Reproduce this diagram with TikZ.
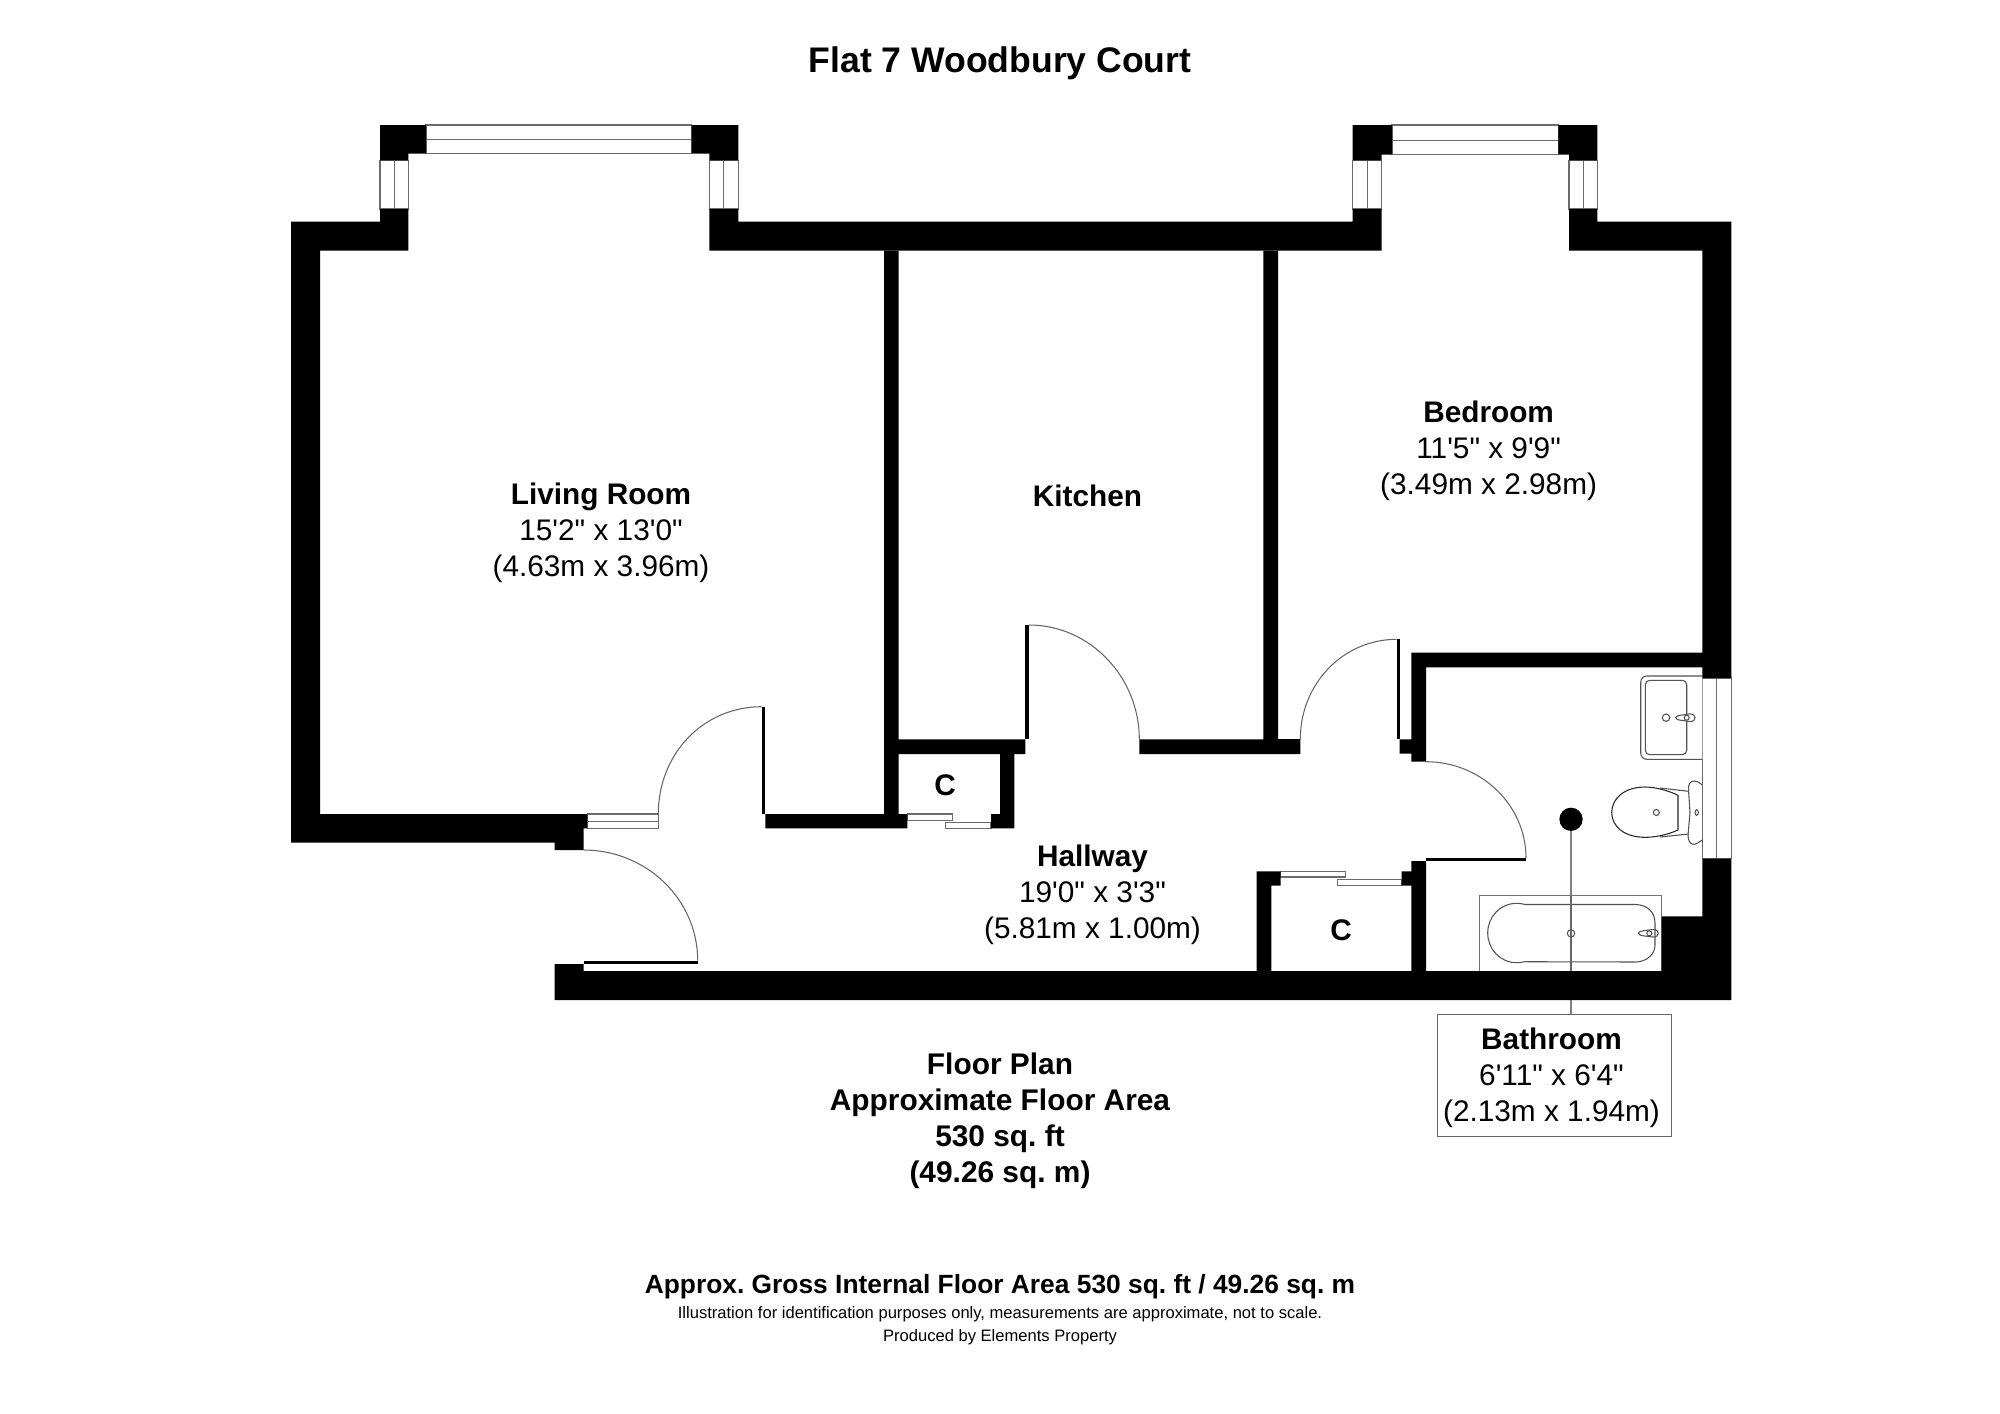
\documentclass[tikz,border=0pt]{standalone}
\usepackage{fontspec}
\newfontfamily\planfont{Liberation Sans}
\frenchspacing
\tikzset{
  wall/.style={fill=black,draw=none},
  glaze/.style={draw=black!58,line width=0.6pt,fill=white},
  thin line/.style={draw=black!60,line width=0.6pt},
  fixture/.style={draw=black!68,line width=0.6pt,fill=white},
  room/.style={align=center,inner sep=0pt,text=black,font=\planfont\fontsize{16.95}{20.6}\selectfont},
  heading/.style={align=center,inner sep=0pt,text=black,font=\planfont\bfseries\fontsize{17.0}{20.5}\selectfont},
}
\begin{document}
\begin{tikzpicture}[x=0.02cm,y=-0.02cm]
\useasboundingbox (0,0) rectangle (2000,1413);
\fill[white] (0,0) rectangle (2000,1413);

% leader from the bathroom marker to its label box
\node[circle,fill=black,minimum size=23.4*0.5669pt,inner sep=0pt] (marker) at (1571,819.3) {};
\node[draw=black!60,line width=0.7pt,minimum width=235*0.5669pt,minimum height=122.5*0.5669pt,inner sep=0pt] (bathbox) at (1554.2,1075.5) {};
\coordinate (boxtop) at (1571,1014.3);
\draw[thin line,draw=black!50,line width=0.7pt] (marker) -- (boxtop);

% windows
\draw[glaze] (426,125) rectangle (691.7,153.7);
\draw[glaze] (426,139.3) -- (691.7,139.3);
\draw[glaze] (380,160.3) rectangle (408.3,209);
\draw[glaze] (394.3,160.3) -- (394.3,209);
\draw[glaze] (709.3,160.3) rectangle (738.3,209);
\draw[glaze] (723.7,160.3) -- (723.7,209);
\draw[glaze] (1392,125) rectangle (1558.3,154.7);
\draw[glaze] (1392,140.7) -- (1558.3,140.7);
\draw[glaze] (1352.7,160.3) rectangle (1381.7,209);
\draw[glaze] (1367.3,160.3) -- (1367.3,209);
\draw[glaze] (1569,160.3) rectangle (1597.3,209);
\draw[glaze] (1583.3,160.3) -- (1583.3,209);
\draw[glaze] (1702.3,678) rectangle (1731.3,858.7);
\draw[glaze] (1716.7,678) -- (1716.7,858.7);
\draw[glaze] (587.3,814) rectangle (658.3,828.3);
\draw[glaze] (587.3,821.3) -- (658.3,821.3);
% sliding doors
\draw[glaze] (907.3,814) rectangle (952.7,820.3);
\draw[glaze] (945.3,822.3) rectangle (991,828.3);
\draw[glaze] (1280.7,871.3) rectangle (1345.3,877);
\draw[glaze] (1337.7,879.7) rectangle (1401.7,885.7);

% door swings
\draw[thin line] (658.3,814) .. controls (658.3,754) and (703,706.7) .. (761.7,706.7);
\draw[thin line] (583.7,850) .. controls (646,850) and (697.7,899) .. (697.7,960.7);
\draw[thin line] (1029,625) .. controls (1090,625) and (1139.3,677) .. (1139.3,739.3);
\draw[thin line] (1300.3,739) .. controls (1300.3,684) and (1343,639.3) .. (1396.7,639.3);
\draw[thin line] (1426,761.7) .. controls (1481,761.7) and (1526,805) .. (1526,858);

% bath
\draw[fixture,draw=black!55] (1479.3,970.7) -- (1479.3,895.7) -- (1661.7,895.7) -- (1661.7,970.7);
\draw[fixture,fill=none] (1525,904.5) .. controls (1522,903.5) and (1519,903.3) .. (1516.7,903.3)
  .. controls (1500,903.3) and (1487.7,917) .. (1487.7,933)
  .. controls (1487.7,949) and (1500,962.7) .. (1516.7,962.7)
  .. controls (1519,962.7) and (1522,962.3) .. (1525,961.7)
  -- (1635,962) .. controls (1647,962) and (1655,954) .. (1655,945)
  -- (1655,923) .. controls (1655,912) and (1647,904.5) .. (1635,904.5) -- cycle;
\draw[fixture,fill=none] (1571,933.3) circle[radius=3.7];
\draw[thin line] (1571,895.7) -- (1571,970.7);
\draw[fixture,fill=none] (1638.3,933.3) .. controls (1638.3,931.5) and (1641,931.2) .. (1645,930.5) -- (1653,929.5)
  .. controls (1660,929) and (1660,937.6) .. (1653,937) -- (1645,936) .. controls (1641,935.5) and (1638.3,935) .. (1638.3,933.3) -- cycle;
\draw[fixture,fill=none] (1649.3,933.3) circle[radius=2.5];

% basin
\draw[fixture,rounded corners=3.5pt] (1702.3,676) -- (1640.7,676) -- (1640.7,759.3) -- (1702.3,759.3);
\draw[fixture,fill=none,rounded corners=2.5pt] (1645.3,680.3) rectangle (1686.7,754.7);
\draw[fixture,fill=none] (1666,717.7) circle[radius=3.7];
\draw[fixture] (1675.7,717.7) .. controls (1675.7,715.9) and (1678,715.6) .. (1682,715) -- (1689.5,713.9)
  .. controls (1697,713.4) and (1697,722) .. (1689.5,721.5) -- (1682,720.4) .. controls (1678,719.8) and (1675.7,719.5) .. (1675.7,717.7) -- cycle;
\draw[fixture,fill=none] (1686.7,717.7) circle[radius=2.5];

% WC
\draw[fixture,fill=none] (1660,788) -- (1688.7,791.3);
\draw[fixture,fill=none] (1660,837) -- (1688.7,834);
\draw[fixture,fill=none,draw=black!85] (1678,795.3) .. controls (1665,789) and (1652,787) .. (1645,787)
  .. controls (1625,787) and (1611.7,798) .. (1611.7,812.5)
  .. controls (1611.7,827) and (1625,837.3) .. (1645,837.3)
  .. controls (1652,837.3) and (1665,836) .. (1678,830) -- cycle;
\draw[fixture,fill=none] (1656.3,812.5) circle[radius=3];
\draw[fixture,fill=none] (1702.3,785) .. controls (1698,781.5) and (1696,781) .. (1694,781)
  .. controls (1690,781) and (1688,785) .. (1688.5,790) -- (1690,812.5) -- (1688,835)
  .. controls (1688,841) and (1690,844.3) .. (1694,844.3)
  .. controls (1696,844.3) and (1699,842) .. (1702.3,840);
\draw[fixture,fill=none] (1696.7,812.5) ellipse[x radius=1.6,y radius=2.8];

% walls: outer run, living room and bays
\fill[wall] (291,221.7) -- (380,221.7) -- (380,209) -- (408.3,209) -- (408.3,250.7) -- (320,250.7) -- (320,814)
  -- (587.3,814) -- (587.3,828.3) -- (583.7,828.3) -- (583.7,850) -- (554.7,850) -- (554.7,842.7) -- (291,842.7) -- cycle;
\fill[wall] (380,125) -- (426,125) -- (426,153.7) -- (408.3,153.7) -- (408.3,160.3) -- (380,160.3) -- cycle;
\fill[wall] (691.7,125) -- (738.3,125) -- (738.3,160.3) -- (709.3,160.3) -- (709.3,153.7) -- (691.7,153.7) -- cycle;
\fill[wall] (709.3,209) -- (738.3,209) -- (738.3,221.7) -- (1352.7,221.7) -- (1352.7,209) -- (1381.7,209) -- (1381.7,250.7) -- (709.3,250.7) -- cycle;
\fill[wall] (1352.7,125) -- (1392,125) -- (1392,154.7) -- (1381.7,154.7) -- (1381.7,160.3) -- (1352.7,160.3) -- cycle;
\fill[wall] (1558.3,125) -- (1597.3,125) -- (1597.3,160.3) -- (1569,160.3) -- (1569,154.7) -- (1558.3,154.7) -- cycle;
\fill[wall] (1569,209) -- (1597.3,209) -- (1597.3,221.7) -- (1731.3,221.7) -- (1731.3,678) -- (1702.3,678) -- (1702.3,667.3)
  -- (1426,667.3) -- (1426,761.7) -- (1411.3,761.7) -- (1411.3,753.7) -- (1399.7,753.7) -- (1399.7,739.3) -- (1411.3,739.3) -- (1411.3,652.7)
  -- (1702.3,652.7) -- (1702.3,250.7) -- (1569,250.7) -- cycle;
\fill[wall] (1702.3,858.7) -- (1731.3,858.7) -- (1731.3,1000) -- (554.7,1000) -- (554.7,964) -- (583.7,964) -- (583.7,971)
  -- (1256.7,971) -- (1256.7,871.3) -- (1280.7,871.3) -- (1280.7,885.7) -- (1271.3,885.7) -- (1271.3,971)
  -- (1411.3,971) -- (1411.3,885.7) -- (1401.7,885.7) -- (1401.7,871.3) -- (1411.3,871.3) -- (1411.3,861) -- (1426,861) -- (1426,971)
  -- (1479.3,971) -- (1661.7,971) -- (1661.7,916.3) -- (1702.3,916.3) -- cycle;
% internal walls
\fill[wall] (884,250.7) -- (898.7,250.7) -- (898.7,739.3) -- (1025.3,739.3) -- (1025.3,754) -- (1014.3,754) -- (1014.3,828.3)
  -- (991,828.3) -- (991,814) -- (1000,814) -- (1000,754) -- (898.7,754) -- (898.7,814) -- (907.3,814) -- (907.3,828.3) -- (765.3,828.3) -- (765.3,814) -- (884,814) -- cycle;
\fill[wall] (1263.3,250.7) -- (1278,250.7) -- (1278,739) -- (1300.3,739) -- (1300.3,754) -- (1139.3,754) -- (1139.3,739.3) -- (1263.3,739.3) -- cycle;
% door leaves
\fill[wall] (761.7,706.7) rectangle (765.3,814);
\fill[wall] (1025,625) rectangle (1029,739.3);
\fill[wall] (1396.7,639.3) rectangle (1400,739.3);
\fill[wall] (583.7,960.7) rectangle (697.7,964.3);
\fill[wall] (1426,858) rectangle (1526,861.3);

% texts
\node[inner sep=0pt,font=\planfont\bfseries\fontsize{20.25}{24}\selectfont] (title) at (1000,63.5) {Flat 7 Woodbury Court};
\node[room] (living) at (601,533) {\textbf{Living Room}\\15'2" x 13'0"\\(4.63m x 3.96m)};
\node[room,font=\planfont\bfseries\fontsize{16.95}{20.6}\selectfont] (kitchen) at (1087.5,496) {Kitchen};
\node[room] (bedroom) at (1488.6,451) {\textbf{Bedroom}\\11'5" x 9'9"\\(3.49m x 2.98m)};
\node[room,font=\planfont\bfseries\fontsize{16.95}{20.6}\selectfont] (cupa) at (945,785) {C};
\node[room,font=\planfont\bfseries\fontsize{16.95}{20.6}\selectfont] (cupb) at (1341,930) {C};
\node[room] (hallway) at (1092.5,895) {\textbf{Hallway}\\19'0" x 3'3"\\(5.81m x 1.00m)};
\node[room] (bathroom) at (1551.5,1078) {\textbf{Bathroom}\\6'11" x 6'4"\\(2.13m x 1.94m)};
\node[heading] (plan) at (1000,1121) {Floor Plan\\Approximate Floor Area\\530 sq. ft\\(49.26 sq. m)};
\node[inner sep=0pt,font=\planfont\bfseries\fontsize{15}{18}\selectfont] (footA) at (1000,1287) {Approx. Gross Internal Floor Area 530 sq. ft / 49.26 sq. m};
\node[inner sep=0pt,font=\planfont\fontsize{9.43}{11}\selectfont] (footB) at (1000,1314.5) {Illustration for identification purposes only, measurements are approximate, not to scale.};
\node[inner sep=0pt,font=\planfont\fontsize{9.43}{11}\selectfont] (footC) at (1000,1337) {Produced by Elements Property};
\end{tikzpicture}
\end{document}
